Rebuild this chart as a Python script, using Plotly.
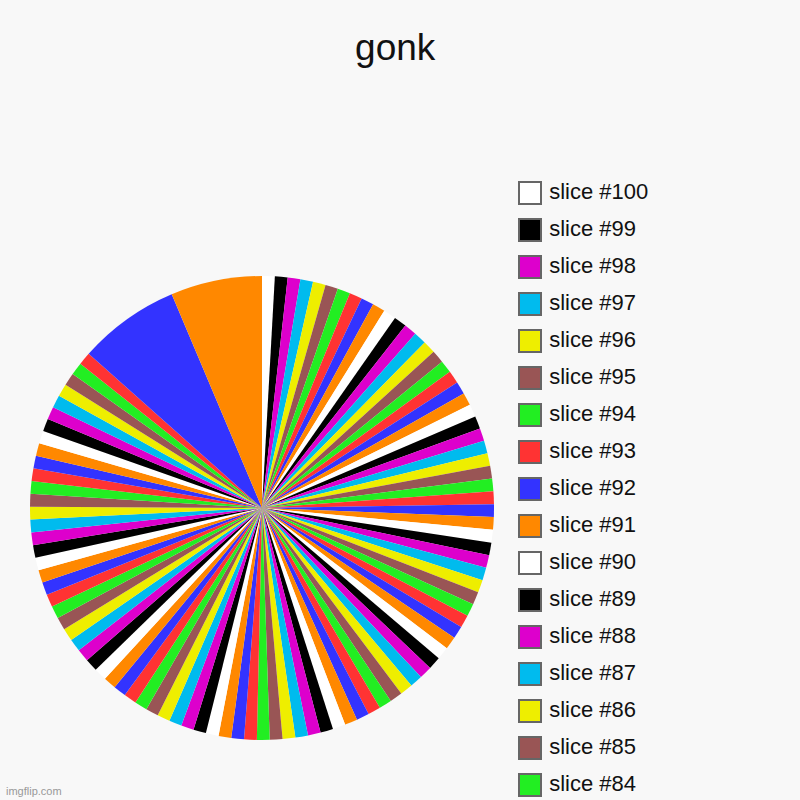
import plotly.graph_objects as go

# slice labels and values (slice #1 .. #100)
labels = [f"slice #{i}" for i in range(1, 101)]
values = [7.2, 8] + [1] * 98

# colours repeat every 10 slices
palette = ["#ff8800", "#3333ff", "#ff3333", "#22ee22", "#995555",
           "#eeee00", "#00bbee", "#dd00cc", "#000000", "#ffffff"]
colors = [palette[i % 10] for i in range(100)]

title = "gonk"
watermark = "imgflip.com"

# only the top of the (scrolled) legend is visible in the chart
legend_rows = 17

fig = go.Figure()

# slices run clockwise from 12 o'clock starting with the last one
fig.add_trace(go.Pie(
    labels=labels[::-1],
    values=values[::-1],
    marker=dict(colors=colors[::-1], line=dict(width=0)),
    sort=False,
    direction="clockwise",
    rotation=0,
    textinfo="none",
    domain=dict(x=[0.0375, 0.6175], y=[0.075, 0.655]),
    showlegend=False,
))

# legend drawn as a column of squares, newest slice on top
leg_labels = labels[::-1][:legend_rows]
leg_colors = colors[::-1][:legend_rows]
fig.add_trace(go.Scatter(
    x=[0] * len(leg_labels),
    y=list(range(len(leg_labels))),
    mode="markers+text",
    marker=dict(symbol="square", size=22, color=leg_colors,
                line=dict(color="#666666", width=2)),
    text=leg_labels,
    texttemplate="\u2009%{text}",
    textposition="middle right",
    textfont=dict(size=22, color="#111111", family="Liberation Sans, Arial"),
    hoverinfo="skip",
    showlegend=False,
))

fig.update_layout(
    width=800,
    height=800,
    margin=dict(l=0, r=0, t=0, b=0),
    paper_bgcolor="#f8f8f8",
    plot_bgcolor="#f8f8f8",
    font=dict(family="Liberation Sans, Arial", color="#111111"),
    title=dict(text=title, x=0.494, y=1 - 47 / 800, xanchor="center",
               yanchor="middle", font=dict(size=37, color="#111111")),
    xaxis=dict(domain=[0.6, 1], range=[-50, 270], visible=False,
               fixedrange=True),
    yaxis=dict(domain=[0, 1], range=[800 / 37 - 193 / 37, -193 / 37],
               visible=False, fixedrange=True),
    annotations=[dict(text=watermark, x=4 / 800, y=1 - 791 / 800,
                      xref="paper", yref="paper",
                      showarrow=False, xanchor="left", yanchor="middle",
                      font=dict(size=11, color="#999999"))],
)

# drop the browser's default page margin so the figure sits at (0, 0)
fig.write_html("out.html",
               config={"displayModeBar": False},
               post_script="document.body.style.margin='0';")
